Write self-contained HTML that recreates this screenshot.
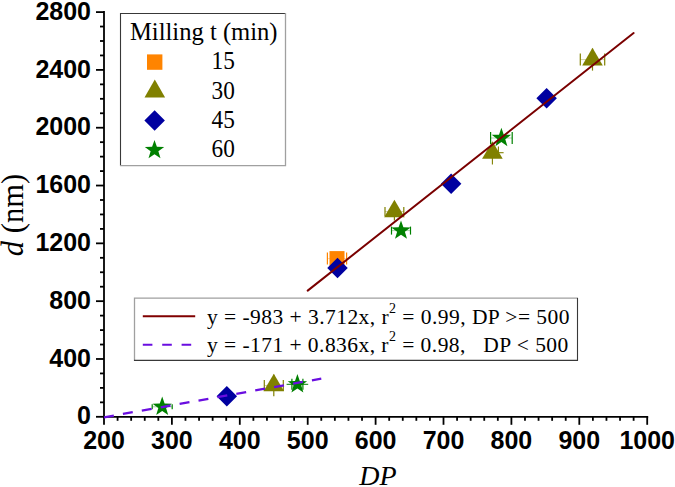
<!DOCTYPE html><html><head><meta charset="utf-8"><style>html,body{margin:0;padding:0;background:#fff;width:675px;height:487px;overflow:hidden}svg{display:block}</style></head><body>
<svg width="675" height="487" viewBox="0 0 675 487">
<rect width="675" height="487" fill="#fff"/>
<g stroke="#000" stroke-width="1.8" fill="none">
<line x1="104" y1="416.8" x2="104" y2="11.088000000000022"/>
<line x1="103.0" y1="416.8" x2="648.2" y2="416.8"/>
<line x1="96" y1="416.80" x2="104" y2="416.80"/>
<line x1="100" y1="402.35" x2="104" y2="402.35"/>
<line x1="100" y1="387.89" x2="104" y2="387.89"/>
<line x1="100" y1="373.44" x2="104" y2="373.44"/>
<line x1="96" y1="358.98" x2="104" y2="358.98"/>
<line x1="100" y1="344.53" x2="104" y2="344.53"/>
<line x1="100" y1="330.08" x2="104" y2="330.08"/>
<line x1="100" y1="315.62" x2="104" y2="315.62"/>
<line x1="96" y1="301.17" x2="104" y2="301.17"/>
<line x1="100" y1="286.71" x2="104" y2="286.71"/>
<line x1="100" y1="272.26" x2="104" y2="272.26"/>
<line x1="100" y1="257.81" x2="104" y2="257.81"/>
<line x1="96" y1="243.35" x2="104" y2="243.35"/>
<line x1="100" y1="228.90" x2="104" y2="228.90"/>
<line x1="100" y1="214.44" x2="104" y2="214.44"/>
<line x1="100" y1="199.99" x2="104" y2="199.99"/>
<line x1="96" y1="185.54" x2="104" y2="185.54"/>
<line x1="100" y1="171.08" x2="104" y2="171.08"/>
<line x1="100" y1="156.63" x2="104" y2="156.63"/>
<line x1="100" y1="142.17" x2="104" y2="142.17"/>
<line x1="96" y1="127.72" x2="104" y2="127.72"/>
<line x1="100" y1="113.27" x2="104" y2="113.27"/>
<line x1="100" y1="98.81" x2="104" y2="98.81"/>
<line x1="100" y1="84.36" x2="104" y2="84.36"/>
<line x1="96" y1="69.90" x2="104" y2="69.90"/>
<line x1="100" y1="55.45" x2="104" y2="55.45"/>
<line x1="100" y1="41.00" x2="104" y2="41.00"/>
<line x1="100" y1="26.54" x2="104" y2="26.54"/>
<line x1="96" y1="12.09" x2="104" y2="12.09"/>
<line x1="104.00" y1="416.8" x2="104.00" y2="424.8"/>
<line x1="117.58" y1="416.8" x2="117.58" y2="420.8"/>
<line x1="131.16" y1="416.8" x2="131.16" y2="420.8"/>
<line x1="144.74" y1="416.8" x2="144.74" y2="420.8"/>
<line x1="158.32" y1="416.8" x2="158.32" y2="420.8"/>
<line x1="171.90" y1="416.8" x2="171.90" y2="424.8"/>
<line x1="185.48" y1="416.8" x2="185.48" y2="420.8"/>
<line x1="199.06" y1="416.8" x2="199.06" y2="420.8"/>
<line x1="212.64" y1="416.8" x2="212.64" y2="420.8"/>
<line x1="226.22" y1="416.8" x2="226.22" y2="420.8"/>
<line x1="239.80" y1="416.8" x2="239.80" y2="424.8"/>
<line x1="253.38" y1="416.8" x2="253.38" y2="420.8"/>
<line x1="266.96" y1="416.8" x2="266.96" y2="420.8"/>
<line x1="280.54" y1="416.8" x2="280.54" y2="420.8"/>
<line x1="294.12" y1="416.8" x2="294.12" y2="420.8"/>
<line x1="307.70" y1="416.8" x2="307.70" y2="424.8"/>
<line x1="321.28" y1="416.8" x2="321.28" y2="420.8"/>
<line x1="334.86" y1="416.8" x2="334.86" y2="420.8"/>
<line x1="348.44" y1="416.8" x2="348.44" y2="420.8"/>
<line x1="362.02" y1="416.8" x2="362.02" y2="420.8"/>
<line x1="375.60" y1="416.8" x2="375.60" y2="424.8"/>
<line x1="389.18" y1="416.8" x2="389.18" y2="420.8"/>
<line x1="402.76" y1="416.8" x2="402.76" y2="420.8"/>
<line x1="416.34" y1="416.8" x2="416.34" y2="420.8"/>
<line x1="429.92" y1="416.8" x2="429.92" y2="420.8"/>
<line x1="443.50" y1="416.8" x2="443.50" y2="424.8"/>
<line x1="457.08" y1="416.8" x2="457.08" y2="420.8"/>
<line x1="470.66" y1="416.8" x2="470.66" y2="420.8"/>
<line x1="484.24" y1="416.8" x2="484.24" y2="420.8"/>
<line x1="497.82" y1="416.8" x2="497.82" y2="420.8"/>
<line x1="511.40" y1="416.8" x2="511.40" y2="424.8"/>
<line x1="524.98" y1="416.8" x2="524.98" y2="420.8"/>
<line x1="538.56" y1="416.8" x2="538.56" y2="420.8"/>
<line x1="552.14" y1="416.8" x2="552.14" y2="420.8"/>
<line x1="565.72" y1="416.8" x2="565.72" y2="420.8"/>
<line x1="579.30" y1="416.8" x2="579.30" y2="424.8"/>
<line x1="592.88" y1="416.8" x2="592.88" y2="420.8"/>
<line x1="606.46" y1="416.8" x2="606.46" y2="420.8"/>
<line x1="620.04" y1="416.8" x2="620.04" y2="420.8"/>
<line x1="633.62" y1="416.8" x2="633.62" y2="420.8"/>
<line x1="647.20" y1="416.8" x2="647.20" y2="424.8"/>
</g>
<g font-family="Liberation Sans, sans-serif" font-weight="bold" font-size="25" fill="#000">
<text x="91" y="424.40" text-anchor="end">0</text>
<text x="91" y="366.58" text-anchor="end">400</text>
<text x="91" y="308.77" text-anchor="end">800</text>
<text x="91" y="250.95" text-anchor="end">1200</text>
<text x="91" y="193.14" text-anchor="end">1600</text>
<text x="91" y="135.32" text-anchor="end">2000</text>
<text x="91" y="77.50" text-anchor="end">2400</text>
<text x="91" y="19.69" text-anchor="end">2800</text>
<text x="104.00" y="449.2" text-anchor="middle">200</text>
<text x="171.90" y="449.2" text-anchor="middle">300</text>
<text x="239.80" y="449.2" text-anchor="middle">400</text>
<text x="307.70" y="449.2" text-anchor="middle">500</text>
<text x="375.60" y="449.2" text-anchor="middle">600</text>
<text x="443.50" y="449.2" text-anchor="middle">700</text>
<text x="511.40" y="449.2" text-anchor="middle">800</text>
<text x="579.30" y="449.2" text-anchor="middle">900</text>
<text x="647.20" y="449.2" text-anchor="middle">1000</text>
</g>
<text x="378" y="484.7" text-anchor="middle" font-family="Liberation Serif, serif" font-style="italic" font-size="28">DP</text>
<text transform="translate(23.3,256.2) rotate(-90)" font-family="Liberation Serif, serif" font-size="30.6"><tspan font-style="italic">d</tspan> (nm)</text>
<g stroke="#ff8400" stroke-width="1.2" fill="none"><line x1="327.40" y1="258.60" x2="346.60" y2="258.60" stroke-width="1" stroke-opacity="0.35"/><line x1="327.40" y1="252.60" x2="327.40" y2="264.60"/><line x1="346.60" y1="252.60" x2="346.60" y2="264.60"/></g>
<rect x="329.50" y="251.10" width="15" height="15" fill="#ff8400"/>
<g stroke="#808000" stroke-width="1.2" fill="none"><line x1="580.30" y1="59.60" x2="604.70" y2="59.60" stroke-width="1" stroke-opacity="0.35"/><line x1="580.30" y1="53.60" x2="580.30" y2="65.60"/><line x1="604.70" y1="53.60" x2="604.70" y2="65.60"/><line x1="592.50" y1="48.60" x2="592.50" y2="70.60"/></g>
<path d="M592.50 47.87L602.80 65.47L582.20 65.47Z" fill="#808000"/>
<g stroke="#808000" stroke-width="1.2" fill="none"><line x1="385.00" y1="211.50" x2="403.80" y2="211.50" stroke-width="1" stroke-opacity="0.35"/><line x1="385.00" y1="207.00" x2="385.00" y2="216.00"/><line x1="403.80" y1="207.00" x2="403.80" y2="216.00"/><line x1="394.40" y1="202.50" x2="394.40" y2="220.50"/></g>
<path d="M394.40 199.77L404.70 217.37L384.10 217.37Z" fill="#808000"/>
<g stroke="#808000" stroke-width="1.1"><line x1="498.4" y1="146.6" x2="498.4" y2="153"/><line x1="498.4" y1="152.7" x2="503.6" y2="152.7"/><line x1="492.4" y1="153.0" x2="492.4" y2="164.4"/></g>
<path d="M492.40 141.27L502.70 158.87L482.10 158.87Z" fill="#808000"/>
<g stroke="#808000" stroke-width="1.2" fill="none"><line x1="264.30" y1="385.50" x2="283.30" y2="385.50" stroke-width="1" stroke-opacity="0.35"/><line x1="264.30" y1="380.00" x2="264.30" y2="391.00"/><line x1="283.30" y1="380.00" x2="283.30" y2="391.00"/><line x1="273.80" y1="374.70" x2="273.80" y2="396.30"/></g>
<path d="M273.80 373.77L284.10 391.37L263.50 391.37Z" fill="#808000"/>
<path d="M337.50 257.85L347.75 268.10L337.50 278.35L327.25 268.10Z" fill="#0000a0"/>
<path d="M451.10 173.55L461.35 183.80L451.10 194.05L440.85 183.80Z" fill="#0000a0"/>
<path d="M546.60 87.95L556.85 98.20L546.60 108.45L536.35 98.20Z" fill="#0000a0"/>
<path d="M226.80 386.05L237.05 396.30L226.80 406.55L216.55 396.30Z" fill="#0000a0"/>
<g stroke="#008000" stroke-width="1.2" fill="none"><line x1="152.20" y1="406.80" x2="172.20" y2="406.80" stroke-width="1" stroke-opacity="0.35"/><line x1="152.20" y1="404.30" x2="152.20" y2="409.30"/><line x1="172.20" y1="404.30" x2="172.20" y2="409.30"/></g>
<path d="M162.20 396.60L164.60 403.50L171.90 403.65L166.08 408.06L168.20 415.05L162.20 410.88L156.20 415.05L158.32 408.06L152.50 403.65L159.80 403.50Z" fill="#008000"/>
<g stroke="#008000" stroke-width="1.2" fill="none"><line x1="291.90" y1="384.30" x2="302.90" y2="384.30" stroke-width="1" stroke-opacity="0.35"/><line x1="291.90" y1="378.80" x2="291.90" y2="389.80"/><line x1="302.90" y1="378.80" x2="302.90" y2="389.80"/></g>
<line x1="286.60" y1="384.30" x2="308.20" y2="384.30" stroke="#008000" stroke-width="1"/>
<path d="M297.40 374.10L299.80 381.00L307.10 381.15L301.28 385.56L303.40 392.55L297.40 388.38L291.40 392.55L293.52 385.56L287.70 381.15L295.00 381.00Z" fill="#008000"/>
<g stroke="#008000" stroke-width="1.2" fill="none"><line x1="391.50" y1="230.60" x2="410.50" y2="230.60" stroke-width="1" stroke-opacity="0.35"/><line x1="391.50" y1="226.60" x2="391.50" y2="234.60"/><line x1="410.50" y1="226.60" x2="410.50" y2="234.60"/></g>
<path d="M401.00 220.40L403.40 227.30L410.70 227.45L404.88 231.86L407.00 238.85L401.00 234.68L395.00 238.85L397.12 231.86L391.30 227.45L398.60 227.30Z" fill="#008000"/>
<g stroke="#008000" stroke-width="1.2" fill="none"><line x1="490.60" y1="138.00" x2="512.20" y2="138.00" stroke-width="1" stroke-opacity="0.35"/><line x1="490.60" y1="132.00" x2="490.60" y2="144.00"/><line x1="512.20" y1="132.00" x2="512.20" y2="144.00"/></g>
<path d="M501.40 127.80L503.80 134.70L511.10 134.85L505.28 139.26L507.40 146.25L501.40 142.08L495.40 146.25L497.52 139.26L491.70 134.85L499.00 134.70Z" fill="#008000"/>
<line x1="307.70" y1="290.62" x2="633.62" y2="33.08" stroke="#7a0000" stroke-width="2" stroke-linecap="round"/>
<line x1="104.00" y1="417.35" x2="321.28" y2="378.68" stroke="#6a0ee0" stroke-width="2.3" stroke-dasharray="10 9.2"/>
<rect x="120.5" y="13.5" width="165" height="152.2" fill="#fff"/>
<path d="M120.5 166V13.5H286" stroke="#383838" stroke-width="1.1" fill="none"/>
<path d="M120 165.6H285.5V13" stroke="#a0a0a0" stroke-width="1.3" fill="none"/>
<g font-family="Liberation Serif, serif" font-size="24" fill="#000">
<text x="130" y="40.1" font-size="24.6">Milling t (min)</text>
<text transform="translate(211.6 69.10) scale(0.97 1.08)">15</text>
<text transform="translate(211.6 98.53) scale(0.97 1.08)">30</text>
<text transform="translate(211.6 127.96) scale(0.97 1.08)">45</text>
<text transform="translate(211.6 157.39) scale(0.97 1.08)">60</text>
</g>
<rect x="147.00" y="54.40" width="15.4" height="15.4" fill="#ff8400"/>
<path d="M154.8 79.6L165.1 97.5L144.5 97.5Z" fill="#808000"/>
<path d="M154.60 110.35L164.85 120.60L154.60 130.85L144.35 120.60Z" fill="#0000a0"/>
<path d="M154.50 139.90L156.90 146.80L164.20 146.95L158.38 151.36L160.50 158.35L154.50 154.18L148.50 158.35L150.62 151.36L144.80 146.95L152.10 146.80Z" fill="#008000"/>
<rect x="134.5" y="298" width="443" height="62.4" fill="#fff"/>
<path d="M134.5 361V298.2H578" stroke="#a0a0a0" stroke-width="1.3" fill="none"/>
<path d="M134 360.4H577.5V298" stroke="#383838" stroke-width="1.1" fill="none"/>
<line x1="142.8" y1="316.3" x2="195.2" y2="316.3" stroke="#800000" stroke-width="2"/>
<line x1="142.8" y1="344.8" x2="195.2" y2="344.8" stroke="#6a0ee0" stroke-width="2" stroke-dasharray="9.6 9.8"/>
<g font-family="Liberation Serif, serif" font-size="21.5" fill="#000">
<text x="207" y="324.1" textLength="362.5" lengthAdjust="spacing">y = -983 + 3.712x, r<tspan font-size="14" dy="-11">2</tspan><tspan dy="11"> = 0.99, DP &gt;= 500</tspan></text>
<text x="207" y="351.6" textLength="361.3" lengthAdjust="spacing">y = -171 + 0.836x, r<tspan font-size="14" dy="-11">2</tspan><tspan dy="11" xml:space="preserve"> = 0.98,   DP &lt; 500</tspan></text>
</g>
</svg></body></html>
